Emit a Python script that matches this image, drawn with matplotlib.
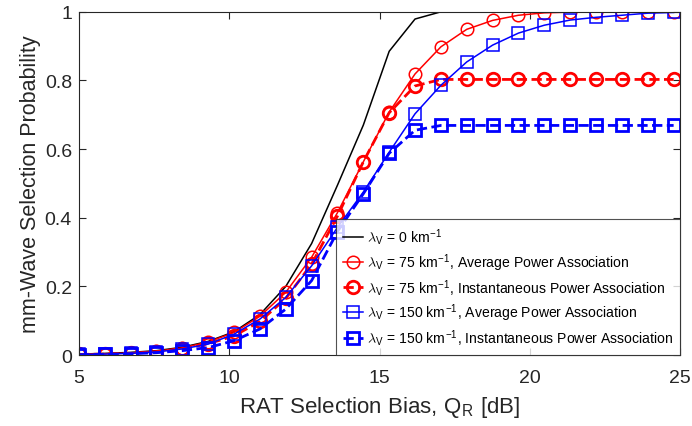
import matplotlib
matplotlib.use("Agg")
import matplotlib.pyplot as plt

plt.rcParams['font.family'] = ['Liberation Sans', 'DejaVu Sans']
plt.rcParams['mathtext.fontset'] = 'cm'

# RAT selection bias Q_R [dB]
q_r = [5.00, 5.86, 6.72, 7.58, 8.44, 9.30, 10.16, 11.02, 11.88, 12.74, 13.60, 14.46,
       15.32, 16.18, 17.04, 17.90, 18.76, 19.62, 20.48, 21.34, 22.20, 23.06, 23.92, 24.78]

# mm-wave selection probability
p_v0 = [0.003, 0.005, 0.008, 0.013, 0.023, 0.040, 0.068, 0.118, 0.200, 0.325, 0.495, 0.670,
        0.885, 0.979, 1.000, 1.000, 1.000, 1.000, 1.000, 1.000, 1.000, 1.000, 1.000, 1.000]
p_v75_avg = [0.003, 0.004, 0.006, 0.011, 0.021, 0.038, 0.066, 0.113, 0.183, 0.285, 0.415, 0.563,
             0.708, 0.819, 0.898, 0.949, 0.975, 0.990, 0.997, 0.999, 1.000, 1.000, 1.000, 1.000]
p_v75_inst = [0.002, 0.003, 0.005, 0.010, 0.018, 0.033, 0.056, 0.098, 0.165, 0.265, 0.405, 0.563,
              0.706, 0.784, 0.803, 0.803, 0.803, 0.803, 0.803, 0.803, 0.803, 0.803, 0.803, 0.803]
p_v150_avg = [0.002, 0.003, 0.005, 0.009, 0.018, 0.032, 0.061, 0.105, 0.168, 0.260, 0.372, 0.475,
              0.591, 0.703, 0.786, 0.854, 0.903, 0.938, 0.961, 0.976, 0.984, 0.990, 0.996, 0.998]
p_v150_inst = [0.001, 0.002, 0.004, 0.007, 0.013, 0.022, 0.042, 0.076, 0.134, 0.217, 0.360, 0.470,
               0.588, 0.655, 0.669, 0.669, 0.669, 0.669, 0.669, 0.669, 0.669, 0.669, 0.669, 0.669]

fig = plt.figure(figsize=(6.92, 4.27), dpi=100)
ax = fig.add_axes([0.114, 0.166, 0.869, 0.804])

lam = r'$\lambda_\mathregular{V}$'
ax.plot(q_r, p_v0, color='k', lw=1.1, label=lam + r' = 0 km$^\mathregular{-1}$')
ax.plot(q_r, p_v75_avg, color='r', lw=1.1, marker='o', ms=9, mfc='none', mew=1.1,
        label=lam + r' = 75 km$^\mathregular{-1}$, Average Power Association')
ax.plot(q_r, p_v75_inst, color='r', lw=2, ls='--', marker='o', ms=9, mfc='none', mew=2,
        label=lam + r' = 75 km$^\mathregular{-1}$, Instantaneous Power Association')
ax.plot(q_r, p_v150_avg, color='b', lw=1.1, marker='s', ms=8, mfc='none', mew=1.1,
        label=lam + r' = 150 km$^\mathregular{-1}$, Average Power Association')
ax.plot(q_r, p_v150_inst, color='b', lw=2, ls='--', marker='s', ms=8, mfc='none', mew=2,
        label=lam + r' = 150 km$^\mathregular{-1}$, Instantaneous Power Association')

ax.set_xlim(5, 25)
ax.set_ylim(0, 1)
ax.set_xticks([5, 10, 15, 20, 25])
ax.set_yticks([0, 0.2, 0.4, 0.6, 0.8, 1])
ax.set_yticklabels(['0', '0.2', '0.4', '0.6', '0.8', '1'])
ax.tick_params(direction='in', top=True, right=True, labelsize=14, colors='#262626', length=5)
ax.tick_params(axis='x', pad=10)
ax.tick_params(axis='y', pad=5)
for s in ax.spines.values():
    s.set_color('#262626')
    s.set_linewidth(0.8)

ax.set_xlabel(r'RAT Selection Bias, Q$_\mathregular{R}$ [dB]', fontsize=16, color='#262626',
              labelpad=6)
ax.set_ylabel('mm-Wave Selection Probability', fontsize=15.5, color='#262626', labelpad=3)

leg = ax.legend(loc='lower right', fontsize=10.1, frameon=True, fancybox=False,
                edgecolor='#262626', handlelength=1.4, handletextpad=0.3,
                borderaxespad=0, labelspacing=0.3, borderpad=0.5)
leg.get_frame().set_linewidth(0.8)

fig.savefig('out.png', dpi=100)
